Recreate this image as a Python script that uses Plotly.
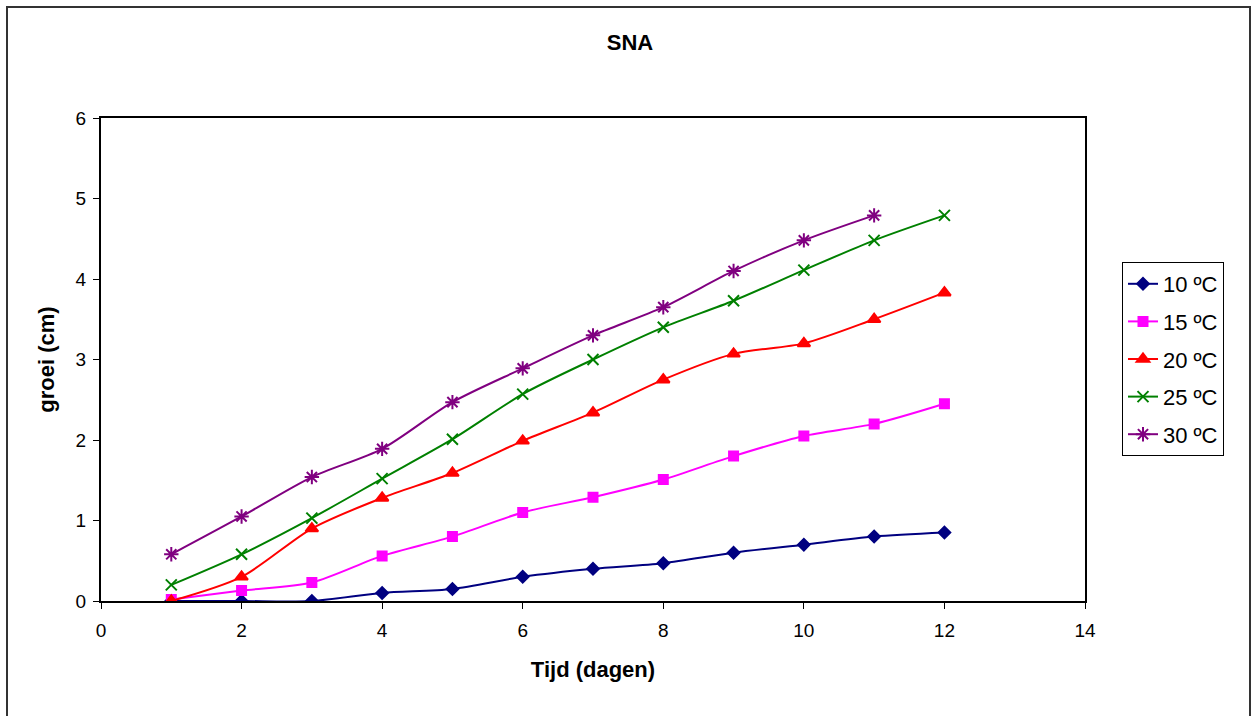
import plotly.graph_objects as go

days = [1, 2, 3, 4, 5, 6, 7, 8, 9, 10, 11, 12]
g10 = [0.0, 0.0, 0.0, 0.1, 0.15, 0.3, 0.4, 0.47, 0.6, 0.7, 0.8, 0.85]
g15 = [0.02, 0.13, 0.23, 0.56, 0.8, 1.1, 1.29, 1.51, 1.8, 2.05, 2.2, 2.45]
g20 = [0.0, 0.3, 0.9, 1.28, 1.59, 1.99, 2.34, 2.75, 3.07, 3.2, 3.5, 3.83]
g25 = [0.2, 0.58, 1.03, 1.52, 2.01, 2.57, 3.0, 3.4, 3.73, 4.11, 4.48, 4.79]
days30 = [1, 2, 3, 4, 5, 6, 7, 8, 9, 10, 11]
g30 = [0.58, 1.05, 1.54, 1.89, 2.47, 2.89, 3.3, 3.65, 4.1, 4.48, 4.79]

names = ["10 ºC", "15 ºC", "20 ºC", "25 ºC", "30 ºC"]
colors = ["#000080", "#FF00FF", "#FF0000", "#008000", "#800080"]
symbols = ["diamond", "square", "triangle-up", "x-thin", "asterisk"]
sizes = [9, 9, 11, 11, 12]

FONT = "Liberation Sans, Arial, sans-serif"

fig = go.Figure()
series = [(days, g10), (days, g15), (days, g20), (days, g25), (days30, g30)]
for i, (xs, ys) in enumerate(series):
    fig.add_trace(go.Scatter(
        x=xs, y=ys, name=names[i], mode="lines+markers",
        line=dict(color=colors[i], width=2, shape="spline", smoothing=0.8),
        marker=dict(symbol=symbols[i], size=sizes[i], color=colors[i],
                    line=dict(color=colors[i], width=2)),
        legendgroup=str(i),
    ))

W, H = 1252, 716
L, R, T, B = 101, 1085, 118, 601
pw, ph = R - L, B - T

def px(xp):
    return (xp - L) / pw

def py(yp):
    return (B - yp) / ph

fig.update_layout(
    width=W, height=H,
    margin=dict(l=L, r=W - R, t=T, b=H - B),
    paper_bgcolor="white", plot_bgcolor="white",
    font=dict(family=FONT, size=19, color="black"),
    title=dict(text="<b>SNA</b>", xref="container", x=630 / W, xanchor="center",
               yref="container", y=1 - 42 / H, yanchor="middle", font=dict(size=22)),
    showlegend=True,
    legend=dict(x=px(1122), xanchor="left", y=py(262), yanchor="top",
                bordercolor="black", borderwidth=1, bgcolor="white",
                traceorder="grouped", tracegroupgap=6,
                entrywidth=80, entrywidthmode="pixels",
                font=dict(size=22)),
    xaxis=dict(range=[0, 14], dtick=2, tick0=0, showgrid=False, zeroline=False,
               showline=True, linecolor="black", linewidth=2, mirror=True,
               ticks="outside", ticklen=6, tickcolor="black", ticklabelstandoff=5,
               title=dict(text="<b>Tijd (dagen)</b>", font=dict(size=22), standoff=22)),
    yaxis=dict(range=[0, 6], dtick=1, tick0=0, showgrid=False, zeroline=False,
               showline=True, linecolor="black", linewidth=2, mirror=True,
               ticks="outside", ticklen=6, tickcolor="black", ticklabelstandoff=3,
               title=dict(text="<b>groei (cm)</b>", font=dict(size=22), standoff=15)),
    shapes=[dict(type="rect", xref="paper", yref="paper",
                 x0=px(7), x1=px(1250), y0=py(740), y1=py(7),
                 line=dict(color="#333333", width=2), layer="below")],
)

fig.write_html("out.html")
